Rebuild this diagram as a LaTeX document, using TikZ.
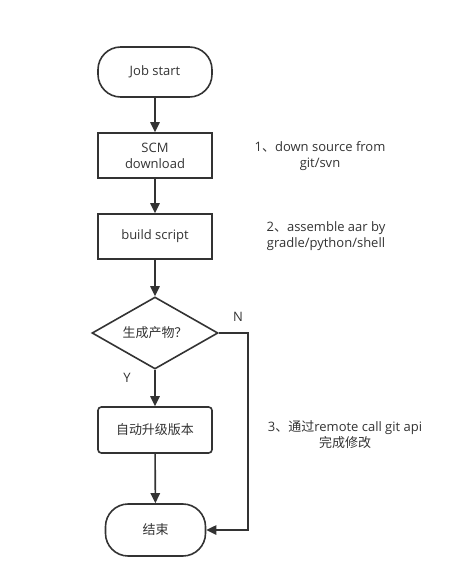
\documentclass[tikz,border=0pt]{standalone}
\usepackage{fontspec}
\setmainfont{Open Sans}
\newfontfamily\cjk{Noto Sans CJK SC}
\usetikzlibrary{shapes.geometric,arrows.meta}
\definecolor{linegray}{HTML}{333333}
\tikzset{
  terminal/.style={draw=linegray, line width=1.2pt, rounded corners=17pt, minimum width=#1, minimum height=37.5pt, align=center},
  process/.style={draw=linegray, line width=1.2pt, minimum width=85.5pt, minimum height=33.75pt, align=center},
  decision/.style={draw=linegray, line width=1.2pt, diamond, aspect=1.75, inner sep=0pt, minimum width=94.5pt, minimum height=54pt},
  note/.style={align=center, text=linegray},
  flow/.style={draw=linegray, line width=1.2pt, -{Triangle[length=7.5pt,width=7pt]}}
}
\begin{document}
\begin{tikzpicture}[x=0.75pt, y=-0.75pt, font=\fontsize{9.75}{12}\selectfont, text=linegray]
\useasboundingbox (0,0) rectangle (457,587);
%FLOW
\node (jobstart) at (155,72) [terminal=85.5pt] {Job start};
\node (scm) at (155,155.5) [process] {SCM\\download};
\node (build) at (155,236.5) [process] {build script};
\node (check) at (155,333) [decision] {\cjk 生成产物？};
\node (bump) at (155,430) [process, rounded corners=2.5pt, minimum height=34.5pt] {\cjk 自动升级版本};
\node (finish) at (155.5,530) [terminal=75pt, minimum height=39pt] {\cjk 结束};
\coordinate (nbend) at (248,333);
\draw[flow] (jobstart) -- (scm);
\draw[flow] (scm) -- (build);
\draw[flow] (build) -- (check);
\draw[flow] (check) -- (bump);
\draw[flow] (bump) -- (finish);
\draw[flow] (check.east) -- (nbend) |- (finish.east);
\node (nlabel) at (238,317) {N};
\node (ylabel) at (127,378) {Y};
%NOTES
\node (note1) at (320,156) [note] {1{\cjk 、}down source from\\git/svn};
\node (note2) at (326,236) [note] {2{\cjk 、}assemble aar by\\gradle/python/shell};
\node (note3) at (345,434.5) [note] {3{\cjk 、通过}remote call git api\\{\cjk 完成修改}};
\end{tikzpicture}
\end{document}
